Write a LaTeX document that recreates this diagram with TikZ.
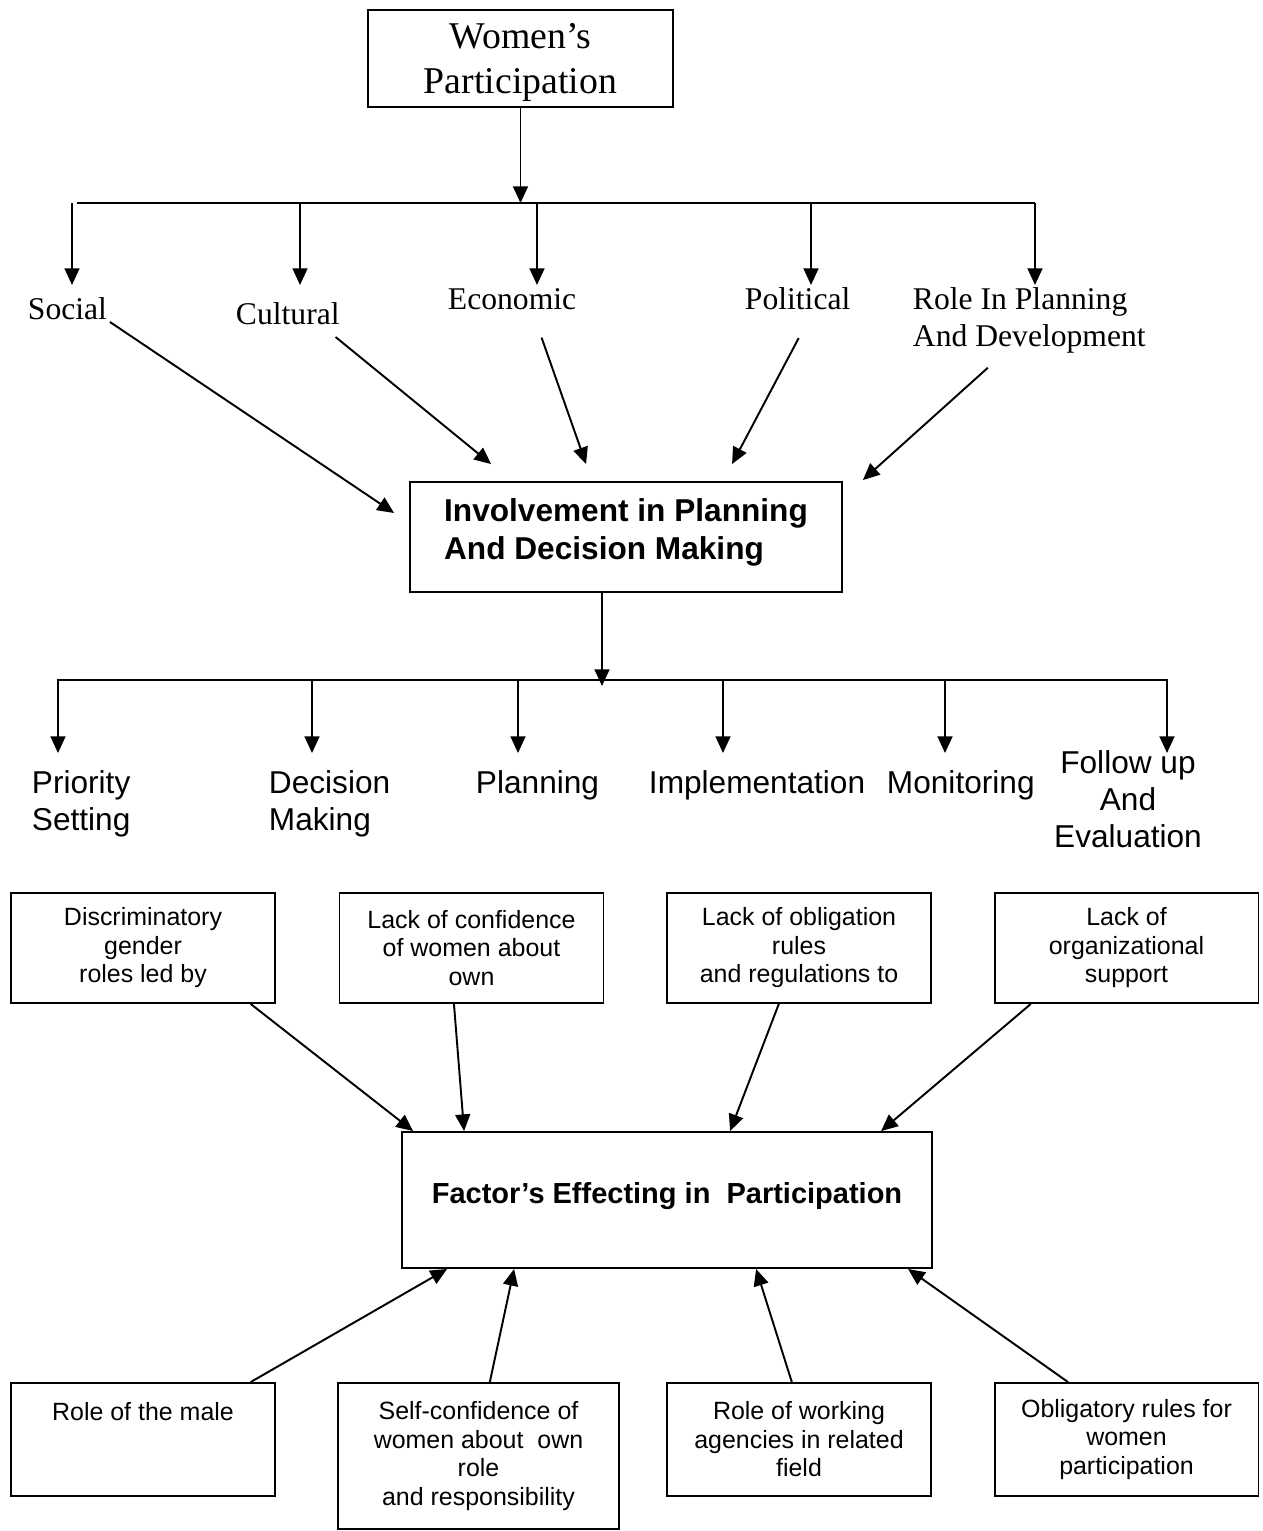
\documentclass[tikz,border=0pt]{standalone}
\usepackage{fontspec}
\setmainfont{Liberation Serif}
\setsansfont{Liberation Sans}
\usetikzlibrary{arrows.meta,calc}
\begin{document}
\begin{tikzpicture}[x=0.02cm, y=-0.02cm, line width=1.1pt,
  >={Triangle[length=9.5pt,width=8.5pt]},
  mainbox/.style={draw, align=center, inner ysep=0pt, minimum width=6.1cm, minimum height=1.94cm,
    font=\fontsize{21.5}{25.5}\selectfont},
  aspect/.style={anchor=west, inner sep=0pt, align=left, font=\fontsize{18}{21}\selectfont},
  stage/.style={anchor=west, inner sep=0pt, align=left, font=\sffamily\fontsize{18}{21}\selectfont},
  hubbox/.style={draw, align=left, font=\sffamily\bfseries\fontsize{18}{21.5}\selectfont},
  factor/.style={draw, align=center, minimum width=5.28cm, minimum height=2.2cm,
    font=\sffamily\fontsize{14.2}{16.2}\selectfont}]
  \useasboundingbox (0,0) rectangle (1263,1531);

  \node[mainbox] (women) at (520.5,58.5) {\rule{0pt}{19pt}Women’s\\Participation};

  \node[aspect] (social) at (27,309) {Social};
  \node[aspect] (cultural) at (235,314) {Cultural};
  \node[aspect] (economic) at (447,299) {Economic};
  \node[aspect] (political) at (744,299) {Political};
  \node[aspect] (role) at (912,320) {Role In Planning\\And Development};

  \foreach \n/\x in {1/72,2/300,3/537,4/811,5/1035} {
    \coordinate (a\n) at (\x,203);
    \coordinate (p\n) at (\x,285);
    \draw[->] (a\n) -- (p\n);
  }
  \coordinate (busL) at (77,203);
  \draw (busL) -- (a5);
  \draw[->] (women) -- (women.south |- a1);

  \node[hubbox, minimum width=8.64cm, minimum height=2.2cm] (inv) at (626,537)
    {Involvement in Planning\\And Decision Making\rule[-9.5pt]{0pt}{9.5pt}};

  \draw[->] ($(social.east)+(2,13)$) -- ($(inv.west)+(-15,-24)$);
  \draw[->] ($(cultural.east)+(-5,23)$) -- ($(inv.north west)+(82,-17)$);
  \draw[->] ($(economic.south)+(29.5,27)$) -- ($(inv.north west)+(177,-17)$);
  \draw[->] ($(political.south)+(1,27)$) -- ($(inv.north west)+(323,-17)$);
  \draw[->] ($(role.south)+(-41.5,14)$) -- ($(inv.north east)+(20,-1)$);

  \coordinate (hub2) at (602,686);
  \draw[->] (inv.south -| hub2) -- (hub2);
  \foreach \n/\x in {1/58,2/312,3/518,4/723,5/945,6/1167} {
    \coordinate (b\n) at (\x,680);
    \coordinate (q\n) at (\x,753);
    \draw[->] (b\n) -- (q\n);
  }
  \draw[line cap=rect] (b1) -- (b6);

  \node[stage] (priority) at (31,803.5) {Priority\\Setting};
  \node[stage] (decision) at (268,803.5) {Decision\\Making};
  \node[stage] (planning) at (475,785) {Planning};
  \node[stage] (implement) at (648,785) {Implementation};
  \node[stage] (monitor) at (886,785) {Monitoring};
  \node[stage, anchor=center, align=center] (follow) at (1128,799) {Follow up\\And\\Evaluation};

  \node[factor] (c1) at (143,948) {Discriminatory\\gender\\roles led by};
  \node[factor] (c2) at (471.5,948) {Lack of confidence\\of women about\\own};
  \node[factor] (c3) at (799,948) {Lack of obligation\\rules\\and regulations to};
  \node[factor] (c4) at (1126.5,948) {Lack of\\organizational\\support};

  \node[draw, minimum width=10.6cm, minimum height=2.72cm,
    font=\sffamily\bfseries\fontsize{16.5}{19}\selectfont] (f) at (667,1200)
    {Factor’s Effecting in\ \ Participation\rule[-8pt]{0pt}{8pt}};

  \draw[->] ($(c1.south west)!0.905!(c1.south east)$) -- ($(f.north west)+(12,0)$);
  \draw[->] ($(c2.south west)!0.434!(c2.south east)$) -- ($(f.north west)+(63,0)$);
  \draw[->] ($(c3.south west)!0.424!(c3.south east)$) -- ($(f.north west)+(329,0)$);
  \draw[->] ($(c4.south west)!0.14!(c4.south east)$) -- ($(f.north west)+(480,0)$);

  \node[factor, minimum height=2.26cm] (d1) at (143,1439.5) {Role of the male\\~\\~};
  \node[factor, minimum width=5.62cm, minimum height=2.92cm] (d2) at (478.5,1456)
    {Self-confidence of\\women about~ own\\role\\and responsibility};
  \node[factor, minimum height=2.26cm] (d3) at (799,1439.5) {Role of working\\agencies in related\\field};
  \node[factor, minimum height=2.26cm] (d4) at (1126.5,1439.5) {Obligatory rules for\\women\\participation};

  \draw[->] ($(d1.north west)!0.905!(d1.north east)$) -- ($(f.south west)+(46,0)$);
  \draw[->] ($(d2.north west)!0.54!(d2.north east)$) -- ($(f.south west)+(113,0)$);
  \draw[->] ($(d3.north west)!0.473!(d3.north east)$) -- ($(f.south west)+(355,0)$);
  \draw[->] ($(d4.north west)!0.28!(d4.north east)$) -- ($(f.south west)+(507,0)$);
\end{tikzpicture}
\end{document}
